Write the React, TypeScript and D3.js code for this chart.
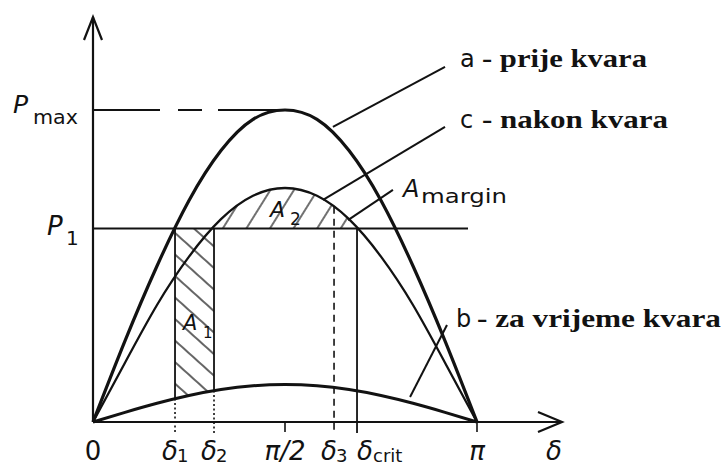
import React from "react";
import * as d3 from "d3";

const WIDTH = 723;
const HEIGHT = 468;

const sampleAngles = d3.range(13).map(k => (k * Math.PI) / 12);
const preFaultValues = [0, 0.26, 0.5, 0.71, 0.87, 0.97, 1.0, 0.97, 0.87, 0.71, 0.5, 0.26, 0]; // a
const postFaultValues = [0, 0.19, 0.375, 0.53, 0.65, 0.725, 0.75, 0.725, 0.65, 0.53, 0.375, 0.19, 0]; // c
const faultValues = [0, 0.031, 0.06, 0.085, 0.104, 0.116, 0.12, 0.116, 0.104, 0.085, 0.06, 0.031, 0]; // b

const P1 = 0.62;
const P1LineEnd = 3.068;

// angle markers
const markerNames = ["1", "2", "3", "crit"];
const markerAngles = [0.671, 0.99, 1.972, 2.16];
const markerBValues = [0.075, 0.101, 0.116, 0.11];
const delta3CValue = 0.69;

// axis tick labels
const tickLabels = ["0", "π/2", "π"];
const tickAngles = [0, Math.PI / 2, Math.PI];

// leader lines [δ, P] → [δ, P]
const leaderNames = ["a", "c", "margin", "b"];
const leaderStarts = [[1.963, 0.946], [1.882, 0.712], [2.086, 0.647], [2.594, 0.08]];
const leaderEnds = [[2.88, 1.138], [2.88, 0.946], [2.454, 0.744], [2.896, 0.311]];

const legendLetters = ["a", "c", "b"];
const legendTexts = ["- prije kvara", "- nakon kvara", "- za vrijeme kvara"];

const ink = "#121212";
const sans = "'DejaVu Sans', sans-serif";
const serif = "'Liberation Serif', serif";

export default function App() {
  const x = d3.scaleLinear().domain([0, Math.PI]).range([93, 477]);
  const y = d3.scaleLinear().domain([0, 1]).range([422, 110]);
  const x0 = x(0);
  const yBase = y(0);

  const pts = (vals: number[]) => vals.map((v, i) => [sampleAngles[i], v] as [number, number]);
  const line = d3.line<[number, number]>()
    .x(d => x(d[0]))
    .y(d => y(d[1]))
    .curve(d3.curveNatural);
  const underArea = d3.area<[number, number]>()
    .x(d => x(d[0]))
    .y0(yBase)
    .y1(d => y(d[1]))
    .curve(d3.curveNatural);
  const aboveArea = d3.area<[number, number]>()
    .x(d => x(d[0]))
    .y0(0)
    .y1(d => y(d[1]))
    .curve(d3.curveNatural);

  const [d1, d2, d3a, dCrit] = markerAngles;
  const yP1 = y(P1);

  return (
    <svg width={WIDTH} height={HEIGHT} style={{position: "absolute", left: 0, top: 0, background: "#fff"}}>
      <defs>
        <pattern id="hatchA1" patternUnits="userSpaceOnUse" width="16" height="16" patternTransform="rotate(-48)">
          <line x1="8" y1="0" x2="8" y2="16" stroke={ink} strokeWidth="1.3"/>
        </pattern>
        <pattern id="hatchA2" patternUnits="userSpaceOnUse" width="20" height="20" patternTransform="rotate(32)">
          <line x1="10" y1="0" x2="10" y2="20" stroke={ink} strokeWidth="1.2"/>
        </pattern>
        <clipPath id="clipUnderC"><path d={underArea(pts(postFaultValues)) || ""}/></clipPath>
        <clipPath id="clipAboveB"><path d={aboveArea(pts(faultValues)) || ""}/></clipPath>
        <clipPath id="clipA2">
          <rect x={x(d2)} y={0} width={x(dCrit) - x(d2)} height={yP1}/>
        </clipPath>
        <clipPath id="clipA1">
          <rect x={x(d1)} y={yP1} width={x(d2) - x(d1)} height={yBase - yP1}/>
        </clipPath>
      </defs>

      {/* hatched areas */}
      <g clipPath="url(#clipA2)">
        <rect x={0} y={0} width={WIDTH} height={HEIGHT} fill="url(#hatchA2)" clipPath="url(#clipUnderC)"/>
      </g>
      <g clipPath="url(#clipA1)">
        <rect x={0} y={0} width={WIDTH} height={HEIGHT} fill="url(#hatchA1)" clipPath="url(#clipAboveB)"/>
      </g>

      {/* axes */}
      <line x1={x0} y1={yBase} x2={x0} y2={17} stroke={ink} strokeWidth={2.2}/>
      <path d={`M${x0 - 9},${40} L${x0},${17} L${x0 + 9},${40}`} fill="none" stroke={ink} strokeWidth={2.2}/>
      <line x1={x0} y1={yBase} x2={562} y2={yBase} stroke={ink} strokeWidth={2.2}/>
      <path d={`M${538},${yBase - 10} L${562},${yBase} L${538},${yBase + 10}`} fill="none" stroke={ink} strokeWidth={2.2}/>

      {/* Pmax dashed, P1 line */}
      <line x1={x0} y1={y(1)} x2={x(Math.PI / 2)} y2={y(1)} stroke={ink} strokeWidth={1.8} strokeDasharray="67 18 24 16 80"/>
      <line x1={x0} y1={yP1} x2={x(P1LineEnd)} y2={yP1} stroke={ink} strokeWidth={2}/>

      {/* marker verticals */}
      {[0, 1].map(i => (
        <g key={i}>
          <line x1={x(markerAngles[i])} y1={yP1} x2={x(markerAngles[i])} y2={y(markerBValues[i])} stroke={ink} strokeWidth={1.8}/>
          <line x1={x(markerAngles[i])} y1={y(markerBValues[i])} x2={x(markerAngles[i])} y2={yBase + 11} stroke={ink} strokeWidth={1.6} strokeDasharray="2 2.5"/>
        </g>
      ))}
      <line x1={x(d3a)} y1={y(delta3CValue)} x2={x(d3a)} y2={yBase + 11} stroke={ink} strokeWidth={1.6} strokeDasharray="7 5"/>
      <line x1={x(dCrit)} y1={yP1} x2={x(dCrit)} y2={yBase + 11} stroke={ink} strokeWidth={1.8}/>
      {tickAngles.slice(1).map((t, i) => (
        <line key={i} x1={x(t)} y1={yBase} x2={x(t)} y2={yBase + 10} stroke={ink} strokeWidth={1.6}/>
      ))}

      {/* curves */}
      <path d={line(pts(faultValues)) || ""} fill="none" stroke={ink} strokeWidth={3}/>
      <path d={line(pts(postFaultValues)) || ""} fill="none" stroke={ink} strokeWidth={2.3}/>
      <path d={line(pts(preFaultValues)) || ""} fill="none" stroke={ink} strokeWidth={3.2}/>

      {/* leaders */}
      {leaderNames.map((n, i) => (
        <line key={n} x1={x(leaderStarts[i][0])} y1={y(leaderStarts[i][1])}
          x2={x(leaderEnds[i][0])} y2={y(leaderEnds[i][1])} stroke={ink} strokeWidth={2}/>
      ))}

      {/* y labels */}
      <text x={13} y={113} fontFamily={sans} fontStyle="italic" fontSize={25} fill={ink}>P</text>
      <text x={33} y={124} fontFamily={sans} fontSize={20} fill={ink} textLength={45} lengthAdjust="spacingAndGlyphs">max</text>
      <text x={47} y={235} fontFamily={sans} fontStyle="italic" fontSize={26} fill={ink}>P</text>
      <text x={66} y={245} fontFamily={sans} fontSize={20} fill={ink}>1</text>

      {/* x labels */}
      {tickLabels.map((t, i) => (
        <text key={t} x={x(tickAngles[i])} y={460} textAnchor="middle" fontFamily={sans}
          fontStyle={t === "0" ? "normal" : "italic"} fontSize={26} fill={ink}>{t}</text>
      ))}
      {markerNames.map((n, i) => (
        <g key={n}>
          <text x={x(markerAngles[i]) - 13 + (i === 3 ? 13 : 0)} y={460} fontFamily={sans} fontStyle="italic" fontSize={26} fill={ink}>δ</text>
          <text x={x(markerAngles[i]) + 2 + (i === 3 ? 14 : 0)} y={462} fontFamily={sans} fontSize={18} fill={ink}>{n}</text>
        </g>
      ))}
      <text x={546} y={460} fontFamily={sans} fontStyle="italic" fontSize={26} fill={ink}>δ</text>

      {/* area labels */}
      <text x={183} y={330} fontFamily={sans} fontStyle="italic" fontSize={21} fill={ink}>A</text>
      <text x={203} y={338} fontFamily={sans} fontSize={15} fill={ink}>1</text>
      <text x={270} y={217} fontFamily={sans} fontStyle="italic" fontSize={22} fill={ink}>A</text>
      <text x={290} y={225} fontFamily={sans} fontSize={17} fill={ink}>2</text>
      <text x={403} y={197} fontFamily={sans} fontStyle="italic" fontSize={24} fill={ink}>A</text>
      <text x={421} y={203} fontFamily={sans} fontSize={20} fill={ink} textLength={86} lengthAdjust="spacingAndGlyphs">margin</text>

      {/* legend */}
      {legendLetters.map((l, i) => {
        const lx = [460, 460, 456][i];
        const ly = [67, 128, 327][i];
        const tx = [482, 482, 477][i];
        const tl = [165, 186, 244][i];
        return (
          <g key={l}>
            <text x={lx} y={ly} fontFamily={sans} fontSize={24} fill={ink}>{l}</text>
            <text x={tx} y={ly} fontFamily={serif} fontWeight="bold" fontSize={26} fill={ink}
              textLength={tl} lengthAdjust="spacingAndGlyphs" style={{whiteSpace: "pre"}}>{legendTexts[i]}</text>
          </g>
        );
      })}
    </svg>
  );
}
